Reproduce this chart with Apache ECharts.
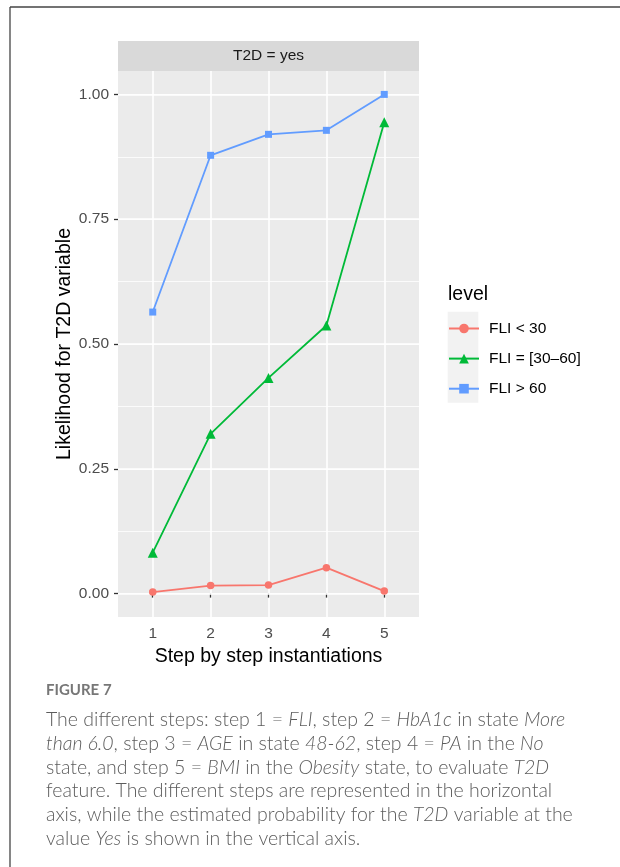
<!DOCTYPE html>
<html>
<head>
<meta charset="utf-8">
<script src="https://cdn.jsdelivr.net/npm/echarts@6/dist/echarts.min.js"></script>
<style>
  html, body { margin: 0; padding: 0; background: #fff; }
  #main { width: 620px; height: 867px; }
</style>
</head>
<body>
<div id="main"></div>
<script>
// data
var steps = [1, 2, 3, 4, 5];
var fliLow = [0.003, 0.016, 0.017, 0.052, 0.005];
var fliMid = [0.082, 0.320, 0.432, 0.537, 0.944];
var fliHigh = [0.564, 0.878, 0.920, 0.928, 1.000];
var levelNames = ['FLI < 30', 'FLI = [30\u201360]', 'FLI > 60'];
var yTicks = [0, 0.25, 0.5, 0.75, 1];

var chart = echarts.init(document.getElementById('main'), null, { renderer: 'canvas' });

function pairs(vals) {
  return steps.map(function (s, i) { return [s, vals[i]]; });
}

var gg = 'Liberation Sans, Arial, sans-serif';
var cap = 'Lato, "Open Sans", sans-serif';
var capColor = '#5c5c5c';

function capLine(y, t) {
  return {
    type: 'text', x: 46, y: y,
    style: {
      text: t, verticalAlign: 'middle',
      rich: {
        n: { fontFamily: cap, fontSize: 19.5, fontWeight: 300, fill: capColor, color: capColor },
        i: { fontFamily: cap, fontSize: 19.5, fontWeight: 300, fontStyle: 'italic', fill: capColor, color: capColor }
      }
    }
  };
}

// minor grid: fine step (ticks start at min), only every 8th line is white
function cycle(n, offset) {
  var a = [];
  for (var i = 0; i < n; i++) a.push(i === offset ? '#fff' : 'rgba(0,0,0,0)');
  return a;
}

var yMin = -0.046875, yMax = 1.046875, yStep = 0.015625; // -3/64 .. 67/64

var option = {
  animation: false,
  backgroundColor: '#fff',
  grid: {
    left: 118, right: 201, top: 71, bottom: 250,
    show: true, backgroundColor: '#EBEBEB', borderWidth: 0
  },
  xAxis: {
    type: 'value', min: 0.4, max: 5.6, interval: 0.2,
    name: 'Step by step instantiations',
    nameLocation: 'middle', nameGap: 27,
    nameTextStyle: { fontFamily: gg, fontSize: 19.5, color: '#000' },
    axisLine: { show: false },
    axisTick: { show: true, length: 4, customValues: steps, lineStyle: { color: '#333', width: 1.3 } },
    axisLabel: {
      fontFamily: gg, fontSize: 15.5, color: '#4d4d4d', margin: 9,
      customValues: steps,
      formatter: function (v) { return String(Math.round(v)); }
    },
    splitLine: { show: true, lineStyle: { color: '#fff', width: 1.6 } }
  },
  yAxis: [{
    type: 'value', min: yMin, max: yMax, interval: yStep,
    name: 'Likelihood for T2D variable',
    nameLocation: 'middle', nameGap: 42, nameRotate: 90,
    nameTextStyle: { fontFamily: gg, fontSize: 19.5, color: '#000' },
    axisLine: { show: false },
    axisTick: { show: true, length: 4, customValues: yTicks, lineStyle: { color: '#333', width: 1.3 } },
    axisLabel: {
      fontFamily: gg, fontSize: 15.5, color: '#4d4d4d', margin: 9,
      customValues: yTicks,
      formatter: function (v) { return v.toFixed(2); }
    },
    splitLine: { show: true, lineStyle: { color: '#fff', width: 1.6 } },
    z: 1
  }, {
    type: 'value', min: yMin, max: yMax, interval: yStep,
    position: 'left',
    axisLine: { show: false }, axisTick: { show: false }, axisLabel: { show: false },
    splitLine: { show: true, lineStyle: { color: cycle(8, 3), width: 0.8 } }
  }],
  legend: {
    orient: 'vertical', left: 448, top: 320.5, padding: 0,
    itemWidth: 30, itemHeight: 12, itemGap: 14.1,
    data: levelNames,
    textStyle: { fontFamily: gg, fontSize: 15.5, color: '#000', padding: [0, 0, 0, 5] }
  },
  graphic: [
    { type: 'line', shape: { x1: 10, y1: 7, x2: 620, y2: 7 }, style: { stroke: '#444', lineWidth: 1.3 } },
    { type: 'line', shape: { x1: 10, y1: 7, x2: 10, y2: 867 }, style: { stroke: '#444', lineWidth: 1.3 } },
    { type: 'rect', shape: { x: 118, y: 41, width: 301, height: 30 }, style: { fill: '#D9D9D9' } },
    { type: 'text', x: 268.5, y: 56, style: { text: 'T2D = yes', fontFamily: gg, fontSize: 15.5, fill: '#1a1a1a', align: 'center', verticalAlign: 'middle' } },
    { type: 'text', x: 448, y: 295, style: { text: 'level', fontFamily: gg, fontSize: 19.5, fill: '#000', align: 'left', verticalAlign: 'middle' } },
    { type: 'rect', shape: { x: 447.7, y: 311.7, width: 30.6, height: 91 }, style: { fill: '#F2F2F2' }, z: -1 },
    { type: 'text', x: 46, y: 690.5, style: { text: 'FIGURE 7', fontFamily: cap, fontSize: 15, fontWeight: 700, fill: '#777', verticalAlign: 'middle' } },
    capLine(720, '{n|The different steps: step 1 = }{i|FLI}{n|, step 2 = }{i|HbA1c}{n| in state }{i|More}'),
    capLine(743.7, '{i|than 6.0}{n|, step 3 = }{i|AGE}{n| in state }{i|48-62}{n|, step 4 = }{i|PA}{n| in the }{i|No}'),
    capLine(767.4, '{n|state, and step 5 = }{i|BMI}{n| in the }{i|Obesity}{n| state, to evaluate }{i|T2D}'),
    capLine(791, '{n|feature. The different steps are represented in the horizontal}'),
    capLine(814.7, '{n|axis, while the estimated probability for the }{i|T2D}{n| variable at the}'),
    capLine(838.4, '{n|value }{i|Yes}{n| is shown in the vertical axis.}')
  ],
  series: [{
    name: levelNames[0], type: 'line', data: pairs(fliLow),
    symbol: 'circle', symbolSize: 7.5, color: '#F8766D',
    lineStyle: { width: 1.8 }
  }, {
    name: levelNames[1], type: 'line', data: pairs(fliMid),
    symbol: 'triangle', symbolSize: 10, color: '#00BA38',
    lineStyle: { width: 1.8 }
  }, {
    name: levelNames[2], type: 'line', data: pairs(fliHigh),
    symbol: 'rect', symbolSize: 7, color: '#619CFF',
    lineStyle: { width: 1.8 }
  }]
};

chart.setOption(option);
</script>
</body>
</html>
